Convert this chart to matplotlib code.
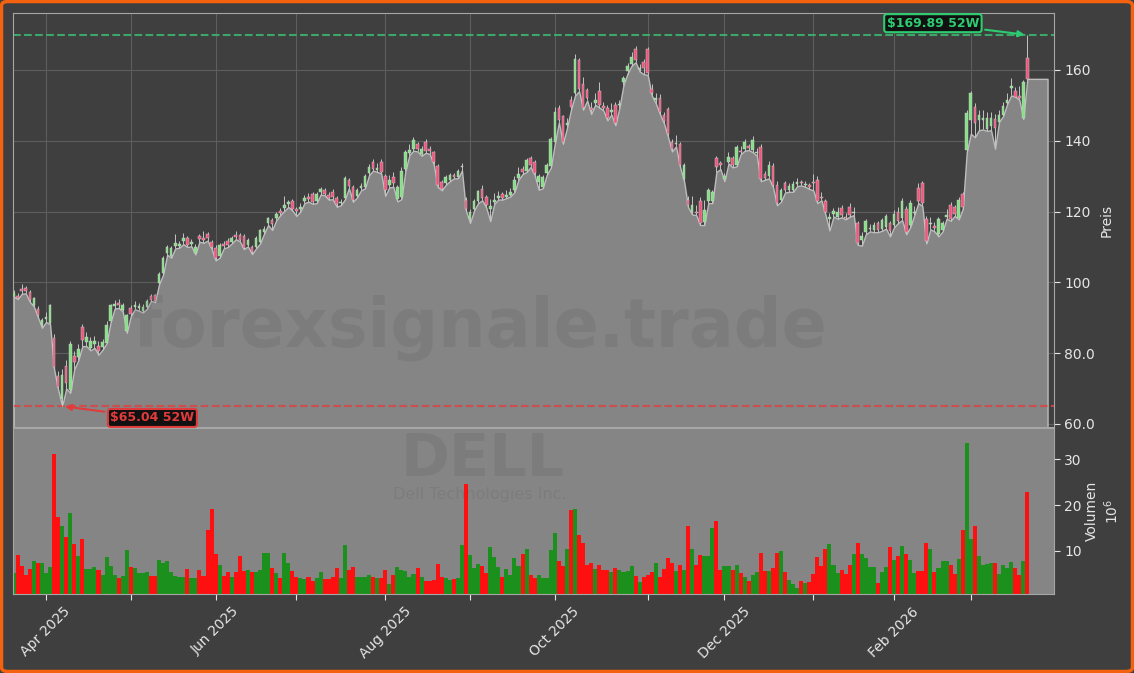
import matplotlib
matplotlib.use("Agg")
import matplotlib.pyplot as plt
import numpy as np
import pandas as pd
from matplotlib.patches import FancyBboxPatch

# -----------------------------
# Handelstage (Mär 2025 - Mär 2026)
# -----------------------------
holidays = pd.to_datetime(["2025-04-18", "2025-05-26", "2025-06-19", "2025-07-04",
                           "2025-09-01", "2025-11-27", "2025-12-25", "2026-01-01",
                           "2026-01-19", "2026-02-16"])
dates = pd.bdate_range("2025-03-20", "2026-03-20")
dates = dates[~dates.isin(holidays)]

# -----------------------------
# Kursdaten DELL (OHLC, USD)
# -----------------------------
opens = [
    96.2, 96.2, 98.0, 98.3, 97.2, 93.6, 92.6, 88.0, 89.6, 88.6,
    84.2, 73.5, 67.2, 76.4, 69.5, 79.2, 79.0, 87.5, 83.2, 81.5,
    82.6, 82.0, 81.8, 83.0, 89.1, 93.2, 94.2, 92.3, 86.2, 92.7,
    93.0, 92.9, 92.0, 93.0, 96.1, 96.3, 99.9, 102.7, 108.3, 107.5,
    110.2, 110.3, 111.8, 112.6, 110.9, 108.4, 113.1, 112.6, 113.7, 111.4,
    109.8, 107.5, 110.8, 111.8, 111.4, 113.3, 113.5, 113.2, 110.6, 110.0,
    110.0, 111.4, 114.2, 116.7,
    117.6, 118.3, 120.3, 121.0, 122.2, 122.9, 120.6, 120.8, 122.9, 124.2,
    124.9, 122.9, 125.4, 126.2, 124.7, 125.6, 123.9, 122.4, 123.9, 129.0,
    127.0, 124.4, 126.6, 127.0, 130.9, 133.9, 131.8, 134.1, 130.0, 127.4,
    129.8, 123.5, 124.0, 132.0, 136.6, 137.7, 139.0, 136.2, 139.8, 137.6,
    136.8, 132.9, 128.5, 128.0, 129.0, 130.2, 129.8, 132.6, 123.2, 118.0,
    120.8, 122.9, 126.5, 124.1, 120.8, 122.8, 123.9, 124.9, 124.2, 124.8,
    126.0, 129.5, 132.1, 131.6,
    135.0, 134.0, 128.5, 127.0, 130.9, 132.9, 139.8, 149.2, 146.9, 144.4,
    151.5, 153.4, 162.8, 156.1, 154.3, 149.2, 150.8, 154.0, 149.8, 149.3,
    148.0, 150.0, 150.0, 156.6, 159.7, 161.7, 166.0, 160.2, 162.2, 166.0,
    154.6, 151.5, 152.0, 147.2, 149.0, 139.8, 139.0, 139.0, 129.2, 123.4,
    119.8, 119.9, 122.9, 117.0, 122.9, 122.9, 135.0, 133.6, 129.2, 134.1,
    135.0, 133.3, 137.2, 137.7, 138.4, 137.4, 136.5, 138.2, 130.6, 130.0,
    132.9, 127.5, 123.4, 128.0,
    126.0, 126.0, 127.8, 128.4, 127.5, 127.4, 128.2, 129.0, 124.2, 122.9,
    118.0, 119.3, 118.6, 121.1, 118.6, 121.3, 119.6, 116.7, 112.1, 114.2,
    115.1, 114.9, 116.9, 115.2, 115.7, 116.9, 116.2, 120.0, 118.3, 120.8,
    116.2, 119.6, 126.8, 128.0, 117.8, 116.4, 115.9, 113.7, 114.9, 118.5,
    122.0, 121.3, 118.3, 125.1, 137.4, 145.9, 149.5, 145.9, 146.0, 143.3,
    144.3, 146.1, 145.4, 147.2, 150.8, 155.0, 154.1, 152.6, 146.4, 163.4,
]
highs = [
    97.8, 97.0, 99.5, 99.0, 97.8, 96.0, 93.4, 90.0, 91.5, 94.0,
    85.5, 75.0, 75.6, 78.0, 83.5, 80.5, 82.5, 88.2, 86.0, 84.5,
    84.8, 83.5, 84.0, 89.0, 94.0, 95.0, 95.2, 94.2, 91.0, 93.5,
    94.8, 94.2, 93.8, 95.2, 96.8, 96.8, 103.0, 107.4, 110.6, 110.2,
    113.6, 111.8, 114.0, 113.2, 112.2, 110.8, 113.8, 114.5, 114.3, 112.0,
    110.5, 111.0, 111.6, 112.4, 113.0, 114.6, 114.0, 113.8, 112.6, 110.6,
    113.0, 115.2, 116.0, 118.6,
    118.2, 120.0, 121.0, 124.5, 123.3, 123.5, 121.2, 122.5, 124.8, 125.2,
    125.5, 125.6, 127.0, 126.8, 125.4, 126.5, 124.4, 123.5, 130.0, 129.4,
    127.5, 126.8, 128.0, 130.5, 133.4, 134.8, 133.6, 134.8, 130.5, 130.4,
    131.2, 127.6, 132.6, 137.5, 139.0, 141.0, 139.6, 138.4, 140.4, 138.6,
    137.2, 133.4, 129.0, 130.3, 130.8, 131.0, 132.0, 133.8, 124.0, 120.6,
    123.5, 126.2, 127.6, 124.8, 123.6, 125.2, 125.8, 125.6, 126.0, 126.6,
    130.0, 132.5, 133.0, 135.0,
    135.8, 134.6, 130.6, 130.3, 133.6, 141.0, 149.6, 150.0, 147.4, 146.4,
    152.6, 164.4, 163.4, 158.0, 155.0, 151.0, 153.6, 156.5, 151.0, 150.2,
    150.6, 151.0, 151.6, 158.4, 162.0, 165.0, 166.8, 161.8, 163.0, 166.6,
    156.0, 153.6, 153.2, 148.0, 149.6, 140.4, 141.6, 139.6, 133.8, 124.4,
    124.5, 122.0, 124.0, 123.4, 126.6, 126.0, 135.6, 134.2, 131.0, 136.8,
    135.8, 138.8, 138.6, 140.4, 139.2, 141.4, 138.0, 139.0, 131.4, 134.2,
    133.8, 128.6, 126.8, 128.6,
    128.0, 128.6, 129.4, 129.0, 128.6, 128.0, 130.6, 130.0, 125.4, 123.6,
    119.6, 121.0, 121.2, 121.8, 119.6, 122.5, 121.2, 117.4, 114.2, 117.8,
    116.4, 117.0, 117.4, 118.2, 119.4, 117.4, 120.4, 121.4, 123.8, 121.6,
    123.2, 121.6, 128.0, 128.6, 118.8, 118.4, 117.0, 118.6, 117.4, 120.6,
    122.8, 122.0, 124.2, 125.6, 148.6, 154.0, 150.6, 148.6, 148.6, 148.0,
    148.2, 147.6, 148.8, 151.0, 153.6, 157.6, 155.2, 155.4, 157.2, 169.89,
]
lows = [
    96.0, 95.3, 96.8, 96.9, 94.5, 93.2, 90.2, 87.2, 88.8, 88.2,
    75.5, 69.8, 65.04, 70.0, 68.8, 75.5, 78.0, 82.0, 82.0, 80.8,
    81.5, 79.6, 81.0, 82.8, 88.8, 92.6, 92.8, 91.8, 85.8, 90.5,
    92.4, 92.0, 91.5, 92.6, 94.8, 94.4, 99.5, 102.2, 107.8, 107.0,
    109.6, 109.8, 110.8, 110.0, 110.2, 107.9, 111.5, 111.2, 111.8, 109.5,
    106.2, 107.0, 109.6, 110.0, 111.0, 112.2, 111.6, 109.4, 110.2, 108.0,
    109.6, 111.0, 113.8, 116.2,
    114.8, 117.5, 119.0, 120.2, 121.3, 120.3, 118.8, 120.0, 122.4, 122.8,
    122.2, 122.4, 124.8, 124.6, 123.4, 123.5, 121.4, 121.8, 123.4, 126.6,
    122.8, 124.0, 126.0, 126.6, 130.3, 131.6, 131.2, 130.8, 124.5, 126.8,
    127.0, 122.9, 123.5, 131.5, 136.0, 137.2, 137.0, 135.8, 136.6, 136.3,
    133.4, 127.0, 126.0, 127.6, 128.6, 129.4, 129.4, 131.6, 120.2, 116.8,
    120.3, 122.4, 123.2, 121.2, 117.3, 122.2, 123.4, 123.4, 123.8, 124.3,
    125.5, 129.0, 130.6, 131.2,
    132.6, 130.3, 126.2, 126.6, 130.4, 132.4, 139.2, 145.2, 139.2, 143.6,
    148.8, 152.8, 154.0, 148.8, 151.4, 147.6, 150.2, 149.4, 148.6, 145.8,
    147.4, 144.4, 149.4, 155.8, 159.0, 161.2, 162.2, 159.6, 158.8, 158.6,
    152.8, 150.6, 147.6, 145.0, 141.2, 137.0, 138.4, 132.6, 128.6, 121.2,
    119.2, 119.0, 116.2, 116.2, 122.4, 122.4, 131.2, 132.0, 128.6, 133.6,
    132.5, 132.8, 136.2, 137.2, 137.4, 136.8, 135.8, 128.6, 129.0, 129.4,
    127.0, 121.8, 122.8, 125.4,
    125.6, 125.6, 127.2, 127.4, 127.0, 126.4, 126.0, 122.4, 123.2, 119.2,
    114.7, 118.6, 118.0, 118.4, 117.8, 118.6, 119.0, 110.6, 110.4, 113.6,
    114.4, 114.2, 114.2, 114.6, 115.2, 113.0, 115.6, 116.8, 117.6, 113.6,
    115.6, 119.0, 122.4, 121.6, 111.0, 115.0, 114.4, 113.0, 114.4, 118.0,
    117.4, 118.8, 117.8, 120.8, 136.8, 142.0, 141.0, 143.0, 143.2, 142.8,
    143.0, 137.8, 145.4, 147.0, 150.4, 152.8, 152.5, 151.6, 146.2, 157.5,
]
closes = [
    96.9, 95.7, 97.5, 97.6, 94.9, 95.5, 90.8, 89.4, 90.2, 93.7,
    76.0, 70.5, 73.8, 71.6, 82.5, 77.6, 81.2, 83.6, 84.6, 83.4,
    83.5, 80.6, 83.2, 88.0, 93.5, 93.8, 93.6, 93.5, 90.7, 91.2,
    93.6, 93.4, 93.0, 94.7, 95.1, 94.8, 102.4, 106.9, 109.9, 109.6,
    111.0, 110.8, 112.4, 110.6, 111.3, 110.0, 112.2, 112.0, 112.5, 110.0,
    106.8, 110.5, 110.2, 110.6, 112.5, 112.8, 112.0, 109.8, 112.0, 108.6,
    112.5, 114.7, 115.2, 118.1,
    116.5, 119.3, 119.5, 122.0, 122.6, 120.8, 120.1, 121.4, 123.9, 123.6,
    122.7, 125.1, 126.4, 125.1, 123.9, 124.1, 122.1, 122.8, 129.5, 127.2,
    123.4, 126.2, 127.2, 130.0, 132.6, 132.1, 132.2, 131.3, 126.0, 129.0,
    128.2, 127.0, 131.5, 136.7, 137.4, 140.2, 137.7, 137.7, 137.2, 137.0,
    133.9, 127.5, 126.5, 129.8, 130.3, 129.9, 131.6, 133.0, 120.8, 120.0,
    122.9, 125.7, 123.7, 121.9, 121.5, 123.4, 124.4, 123.9, 124.6, 125.4,
    129.0, 130.5, 131.1, 134.6,
    133.1, 130.9, 130.0, 129.8, 133.1, 140.5, 148.2, 145.9, 139.8, 145.0,
    149.5, 163.0, 154.6, 149.3, 152.0, 148.6, 151.5, 150.0, 149.3, 146.4,
    148.6, 144.9, 150.5, 157.6, 161.2, 163.8, 162.8, 160.6, 160.7, 159.2,
    153.6, 152.0, 148.2, 145.7, 141.8, 137.7, 139.4, 133.1, 133.1, 121.9,
    122.0, 119.6, 116.7, 120.5, 126.0, 125.4, 132.6, 133.1, 130.0, 135.4,
    133.1, 138.2, 136.8, 139.8, 138.0, 140.3, 136.9, 129.2, 129.5, 133.1,
    127.5, 122.4, 126.0, 126.0,
    127.2, 127.8, 128.5, 128.0, 127.8, 127.0, 128.0, 122.9, 123.9, 119.8,
    118.4, 120.3, 120.0, 119.0, 118.3, 119.0, 119.9, 111.1, 113.2, 117.3,
    115.4, 116.2, 114.7, 117.6, 118.8, 114.5, 119.3, 117.3, 122.9, 114.2,
    122.4, 120.0, 122.9, 122.4, 111.6, 116.9, 115.4, 117.8, 116.7, 119.0,
    117.8, 119.3, 123.4, 121.3, 147.9, 153.4, 144.9, 147.2, 146.4, 146.4,
    146.4, 143.6, 147.2, 149.7, 151.5, 155.6, 152.5, 152.2, 156.6, 157.5,
]

# Volumen in Mio. Stück
volumes = [
    5.2, 9.0, 6.6, 4.8, 6.0, 7.7, 7.3, 7.4, 5.2, 6.4,
    31.2, 17.5, 15.5, 13.1, 18.3, 11.4, 8.8, 12.5, 6.0, 6.0,
    6.4, 5.8, 4.8, 8.6, 6.8, 4.8, 4.0, 4.6, 10.1, 6.4,
    6.2, 5.1, 5.1, 5.4, 4.6, 4.5, 8.1, 7.3, 7.7, 5.4,
    4.6, 4.4, 4.2, 6.0, 4.0, 4.0, 5.8, 4.6, 14.5, 19.2,
    9.3, 6.9, 4.6, 5.4, 4.2, 5.3, 8.8, 5.6, 5.8, 5.4,
    5.4, 5.8, 9.6, 9.6,
    6.2, 5.1, 4.0, 9.6, 7.4, 5.6, 4.2, 4.0, 3.9, 4.2,
    3.4, 4.0, 5.4, 3.9, 3.9, 4.2, 6.2, 4.0, 11.2, 5.8,
    6.4, 4.2, 4.2, 4.4, 4.8, 4.2, 4.0, 4.0, 5.8, 2.8,
    4.8, 6.4, 5.8, 5.6, 4.4, 5.0, 6.2, 4.4, 3.4, 3.4,
    3.6, 7.2, 4.2, 4.0, 3.6, 3.9, 4.0, 11.2, 24.5, 9.0,
    6.2, 7.2, 6.8, 5.2, 10.8, 8.6, 6.4, 4.4, 6.0, 4.8,
    8.4, 6.8, 9.3, 10.4,
    4.8, 4.0, 4.8, 4.0, 4.0, 10.1, 13.8, 7.7, 6.6, 10.5,
    18.9, 19.1, 13.4, 11.8, 7.0, 7.3, 6.0, 7.0, 5.8, 5.8,
    5.3, 6.2, 5.8, 5.4, 5.6, 6.6, 4.6, 3.2, 4.4, 4.8,
    5.4, 7.4, 4.4, 6.0, 8.4, 7.3, 5.6, 7.0, 5.8, 15.4,
    10.4, 7.0, 9.0, 8.8, 8.9, 14.9, 16.6, 5.8, 6.8, 6.8,
    5.8, 6.9, 5.2, 4.2, 3.5, 4.8, 5.3, 9.6, 5.6, 5.6,
    6.2, 9.6, 10.0, 5.3,
    3.6, 2.8, 2.0, 3.4, 3.1, 3.2, 5.0, 8.6, 6.6, 10.5,
    11.6, 7.0, 5.2, 5.8, 5.0, 7.0, 9.3, 11.8, 9.3, 8.4,
    6.4, 6.4, 3.0, 5.4, 6.4, 10.8, 8.1, 8.9, 11.0, 9.4,
    8.1, 5.2, 5.6, 5.6, 11.8, 10.5, 5.4, 6.2, 7.8, 7.8,
    7.0, 5.0, 8.2, 14.5, 33.6, 12.7, 15.4, 8.8, 7.0, 7.2,
    7.4, 7.4, 5.0, 7.0, 6.2, 7.6, 6.2, 4.8, 7.7, 22.8,
]

price_ticks = [60, 80, 100, 120, 140, 160]
price_tick_labels = ["60.0", "80.0", "100", "120", "140", "160"]
vol_ticks = [10, 20, 30]

opens = np.array(opens)
highs = np.array(highs)
lows = np.array(lows)
closes = np.array(closes)
volumes = np.array(volumes)
x = np.arange(len(closes))
up = closes >= opens

# -----------------------------
# Farben
# -----------------------------
BG = "#3f3f3f"
FILL = "#858585"
TXT = "#e6e6e6"
SPINE = "#a6a6a6"
GREEN_HI = "#2ecc71"
RED_LO = "#e23b3b"

fig = plt.figure(figsize=(11.34, 6.73), dpi=100, facecolor=BG)
ax = fig.add_axes([13 / 1134, 1 - 427 / 673, 1041 / 1134, 414 / 673])
axv = fig.add_axes([13 / 1134, 1 - 594 / 673, 1041 / 1134, 166 / 673], sharex=ax)

# -----------------------------
# Preis-Panel
# -----------------------------
ax.set_facecolor(BG)
fx = np.append(x, x[-1] + 5)
fl = np.append(lows, lows[-1])
ax.fill_between(fx, fl, 0, facecolor=FILL, edgecolor="#bdbdbd", linewidth=1.0, zorder=1)

ax.vlines(x, lows, highs, color="#c4c4c4", linewidth=0.7, zorder=3)
body_lo = np.minimum(opens, closes)
body_h = np.maximum(np.abs(closes - opens), 0.3)
ax.bar(x, body_h, bottom=body_lo, width=0.65,
       color=np.where(up, "#86e086", "#f0557c"),
       edgecolor="#d2d2d2", linewidth=0.3, zorder=4)

hi_i = int(np.argmax(highs))
lo_i = int(np.argmin(lows))
hi = highs[hi_i]
lo = lows[lo_i]
ax.axhline(hi, color="#3cb36e", linestyle="--", linewidth=1.5, alpha=0.9, zorder=2)
ax.axhline(lo, color="#d94545", linestyle="--", linewidth=1.5, alpha=0.85, zorder=2)

ax.annotate(rf"\${hi:.2f} 52W", xy=(hi_i, hi), xytext=(-68, 8.5), textcoords="offset points",
            ha="center", va="center", color=GREEN_HI, fontsize=9, fontweight="bold",
            bbox=dict(boxstyle="round,pad=0.2", fc="#111111", ec=GREEN_HI, lw=1.5),
            arrowprops=dict(arrowstyle="-|>", color=GREEN_HI, lw=1.5, shrinkB=2),
            zorder=6)
ax.annotate(rf"\${lo:.2f} 52W", xy=(lo_i, lo), xytext=(65, -8.5), textcoords="offset points",
            ha="center", va="center", color=RED_LO, fontsize=9, fontweight="bold",
            bbox=dict(boxstyle="round,pad=0.2", fc="#111111", ec=RED_LO, lw=1.5),
            arrowprops=dict(arrowstyle="-|>", color=RED_LO, lw=1.5, shrinkB=2),
            zorder=6)

ax.set_ylim(59.15, 176.1)
ax.set_xlim(-0.17, 257.6)
ax.set_yticks(price_ticks)
ax.set_yticklabels(price_tick_labels)
ax.yaxis.tick_right()
ax.yaxis.set_label_position("right")
ax.set_ylabel("Preis", color=TXT, fontsize=10, labelpad=3)
ax.tick_params(axis="y", colors=TXT, labelsize=10, length=4)
ax.tick_params(axis="x", which="both", bottom=False, labelbottom=False)
ax.grid(True, color="#5e5e5e", linewidth=0.8)
ax.set_axisbelow(True)
for s in ax.spines.values():
    s.set_color(SPINE)

# -----------------------------
# Volumen-Panel
# -----------------------------
axv.set_facecolor(FILL)
axv.bar(x, volumes, width=1.0, color=np.where(up, "#1c901c", "#ff1010"), zorder=2)
axv.set_ylim(0.6, 36.8)
axv.set_yticks(vol_ticks)
axv.yaxis.tick_right()
axv.yaxis.set_label_position("right")
axv.set_ylabel("Volumen\n$10^6$", color=TXT, fontsize=10, labelpad=2)
axv.tick_params(axis="y", colors=TXT, labelsize=10, length=4)

month_idx = [i for i in range(1, len(dates)) if dates[i].month != dates[i - 1].month]
month_lbl = [dates[i].strftime("%b %Y") if k % 2 == 0 else "" for k, i in enumerate(month_idx)]
axv.set_xticks(month_idx)
axv.set_xticklabels(month_lbl, rotation=45)
axv.tick_params(axis="x", colors=TXT, labelsize=10, length=4)
for s in axv.spines.values():
    s.set_color(SPINE)

# -----------------------------
# Wasserzeichen
# -----------------------------
fig.text(480 / 1134, 1 - 328 / 673, "forexsignale.trade", fontsize=48, fontweight="bold",
         color="#3a3a3a", alpha=0.11, ha="center", va="center")
fig.text(483 / 1134, 1 - 459 / 673, "DELL", fontsize=42.5, fontweight="bold",
         color="#3a3a3a", alpha=0.11, ha="center", va="center")
fig.text(480 / 1134, 1 - 494 / 673, "Dell Technologies Inc.", fontsize=11.5,
         color="#3a3a3a", alpha=0.11, ha="center", va="center")

# Rahmen
frame = FancyBboxPatch((1.5 / 1134, 1.5 / 673), 1 - 3 / 1134, 1 - 3 / 673,
                       boxstyle="round,pad=0,rounding_size=0.006",
                       transform=fig.transFigure, facecolor="none",
                       edgecolor="#f5620f", linewidth=2.5, clip_on=False)
fig.patches.append(frame)

fig.savefig("out.png", dpi=100, facecolor=BG)
